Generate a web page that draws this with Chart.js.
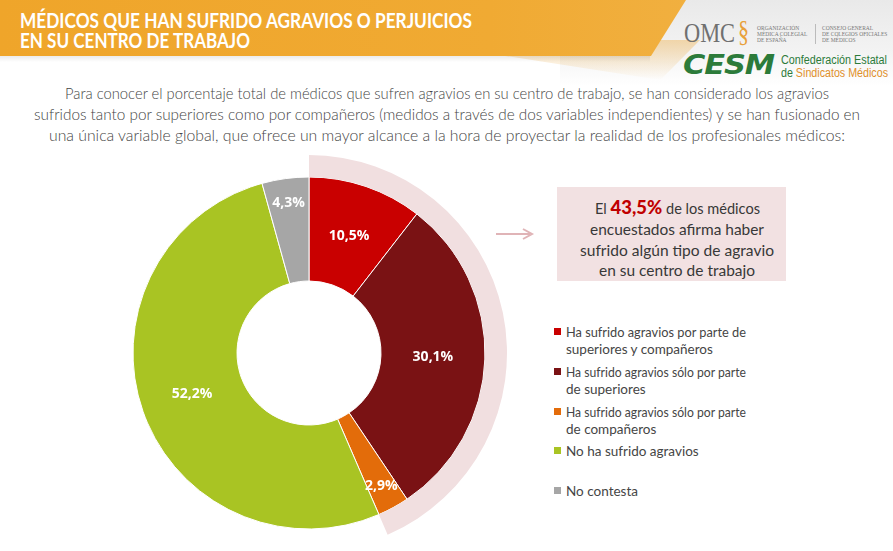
<!DOCTYPE html>
<html lang="es">
<head>
<meta charset="utf-8">
<script src="https://cdn.jsdelivr.net/npm/chart.js@4/dist/chart.umd.min.js"></script>
<style>
  html,body{margin:0;padding:0;background:#fff;}
  body{width:893px;height:551px;position:relative;overflow:hidden;font-family:Lato,"Open Sans",sans-serif;}
  .abs{position:absolute;}
  .t{position:absolute;white-space:nowrap;line-height:1;}
  .t span{display:inline-block;white-space:nowrap;transform-origin:0 50%;}
  #chartWrap{position:absolute;left:111px;top:155px;width:396px;height:396px;}
</style>
</head>
<body>
<script>
// ---------- DATA ----------
const categories = [
  "Ha sufrido agravios por parte de superiores y compañeros",
  "Ha sufrido agravios sólo por parte de superiores",
  "Ha sufrido agravios sólo por parte de compañeros",
  "No ha sufrido agravios",
  "No contesta"
];
const legendLines = [
  ["Ha sufrido agravios por parte de", "superiores y compañeros"],
  ["Ha sufrido agravios sólo por parte", "de superiores"],
  ["Ha sufrido agravios sólo por parte", "de compañeros"],
  ["No ha sufrido agravios"],
  ["No contesta"]
];
const values = [10.5, 30.1, 2.9, 52.2, 4.3];
const highlightedCount = 3; // first three categories = "ha sufrido algún agravio"
const titleLines = ["MÉDICOS QUE HAN SUFRIDO AGRAVIOS O PERJUICIOS", "EN SU CENTRO DE TRABAJO"];
const introLines = [
  "Para conocer el porcentaje total de médicos que sufren agravios en su centro de trabajo, se han considerado los agravios",
  "sufridos tanto por superiores como por compañeros (medidos a través de dos variables independientes) y se han fusionado en",
  "una única variable global, que ofrece un mayor alcance a la hora de proyectar la realidad de los profesionales médicos:"
];
</script>

<!-- header band -->
<div class="abs" style="left:560px;top:0;width:333px;height:86px;background:linear-gradient(to bottom,#e9e9e9 0%,#f3f3f3 60%,#ffffff 100%);"></div>
<div class="abs" style="left:480px;top:40px;width:220px;height:40px;background:linear-gradient(to bottom,rgba(240,190,110,0.55),rgba(255,255,255,0));clip-path:polygon(0 0,100% 0,82% 100%,0 30%);"></div>
<div class="abs" style="left:0;top:0;width:700px;height:56px;background:linear-gradient(to right,#efa52a 0%,#f0aa33 70%,#f1b040 100%);clip-path:polygon(0 0,98% 0,93% 100%,0 100%);"></div>
<div class="abs" style="left:0;top:56px;width:650px;height:6px;background:linear-gradient(to bottom,rgba(0,0,0,0.08),rgba(0,0,0,0));"></div>

<!-- logos -->
<div class="t" style="left:684px;top:20px;font-family:'Liberation Serif','DejaVu Serif',serif;font-size:27px;color:#707070;"><span data-w="51">OMC</span></div>
<div class="t" style="left:738px;top:16px;font-family:'Liberation Serif',serif;font-size:30px;color:#e8a03a;"><span data-w="11">§</span></div>
<div class="t" style="left:757px;top:25px;font-family:'Liberation Serif',serif;font-size:5.5px;line-height:6px;color:#777;">ORGANIZACIÓN<br>MÉDICA COLEGIAL<br>DE ESPAÑA</div>
<div class="abs" style="left:815px;top:24px;width:1px;height:20px;background:#bbb;"></div>
<div class="t" style="left:822px;top:25px;font-family:'Liberation Serif',serif;font-size:5.5px;line-height:6px;color:#777;">CONSEJO GENERAL<br>DE COLEGIOS OFICIALES<br>DE MÉDICOS</div>
<div class="t" id="cesm" style="left:683px;top:51px;font-family:'DejaVu Sans',sans-serif;font-weight:900;font-style:italic;font-size:27px;color:#2c7b3a;letter-spacing:-1px;"><span data-w="91">CESM</span></div>
<div class="t" style="left:781px;top:54px;font-family:'Liberation Sans',Arial,sans-serif;font-size:12px;color:#2c7b3a;"><span data-w="106">Confederación Estatal</span></div>
<div class="t" style="left:781px;top:67px;font-family:'Liberation Sans',Arial,sans-serif;font-size:12px;color:#2c7b3a;"><span data-w="107">de <b style="font-weight:400;color:#e0902a;">Sindicatos Médicos</b></span></div>

<div id="texts"></div>

<!-- callout -->
<div class="abs" style="left:557px;top:187px;width:229px;height:94px;background:#f2e1e2;"></div>
<svg class="abs" style="left:490px;top:222px;" width="50" height="24">
  <line x1="6" y1="12" x2="40" y2="12" stroke="#e0b4b7" stroke-width="2"/>
  <path d="M33 7 L42 12 L33 17" fill="none" stroke="#e0b4b7" stroke-width="2"/>
</svg>
<div id="callout"></div>

<div id="chartWrap"><canvas id="c" width="396" height="396"></canvas></div>
<div id="legend"></div>

<script>
const colors = ['#c90000', '#7a1214', '#e36c0a', '#a9c423', '#a6a6a6'];
const highlightColor = '#f1dfe0';
const fmt = v => v.toFixed(1).replace('.', ',') + '%';
const highlightTotal = Math.round(values.slice(0, highlightedCount).reduce((a, b) => a + b, 0) * 10) / 10;

function addText(parent, txt, opts) {
  const d = document.createElement('div');
  d.className = 't';
  d.style.left = opts.x + 'px';
  d.style.top = opts.y + 'px';
  d.style.font = opts.font;
  d.style.color = opts.color || '#404040';
  const s = document.createElement('span');
  if (opts.html) s.innerHTML = txt; else s.textContent = txt;
  if (opts.w) s.dataset.w = opts.w;
  if (opts.center) s.dataset.center = opts.center;
  d.appendChild(s);
  parent.appendChild(d);
  return d;
}
const texts = document.getElementById('texts');
// title
addText(texts, titleLines[0], {x: 20, y: 7, font: '700 21px Lato', color: '#ffffff', w: 452});
addText(texts, titleLines[1], {x: 20, y: 27, font: '700 21px Lato', color: '#ffffff', w: 230});
// intro paragraph
const introW = [764, 826, 796];
introLines.forEach((l, i) => addText(texts, l, {x: 0, y: 83 + i * 21, font: '300 16px Lato', color: '#454545', w: introW[i], center: 447}));

// callout
const callout = document.getElementById('callout');
const cLines = [
  'El <b style="color:#c00000;font-weight:900;font-size:19px;">' + fmt(highlightTotal) + '</b> de los médicos',
  'encuestados afirma haber',
  'sufrido algún tipo de agravio',
  'en su centro de trabajo'
];
const cW = [165, 174, 194, 156];
const cY = [195, 220, 241, 261];
cLines.forEach((l, i) => addText(callout, l, {x: 0, y: cY[i], font: '400 15px Lato', color: '#383838', w: cW[i], center: 677, html: true}));

// legend
const legend = document.getElementById('legend');
legendLines.forEach((lines, i) => {
  const y0 = 332 + i * 39.75;
  const sq = document.createElement('div');
  sq.className = 'abs';
  sq.style.cssText = `left:554px;top:${Math.round(y0 - 4)}px;width:7px;height:7px;background:${colors[i]};`;
  legend.appendChild(sq);
  lines.forEach((l, j) => {
    addText(legend, l, {x: 566, y: Math.round(y0 - 8 + j * 17), font: '400 13.5px Lato', color: '#454545', w: j === 0 && lines[0].length > 25 ? 180 : null});
  });
});

// fit text widths
document.querySelectorAll('span[data-w]').forEach(s => {
  const w = parseFloat(s.dataset.w);
  const a = s.getBoundingClientRect().width;
  s.style.transform = `scaleX(${w / a})`;
  if (s.dataset.center) {
    s.parentElement.style.left = (parseFloat(s.dataset.center) - w / 2) + 'px';
  }
});

// ---------- CHART ----------
const labelPlugin = {
  id: 'sliceLabels',
  afterDatasetsDraw(chart) {
    const meta = chart.getDatasetMeta(1);
    const ctx = chart.ctx;
    ctx.save();
    ctx.font = '700 14px "Open Sans"';
    ctx.fillStyle = '#ffffff';
    ctx.textAlign = 'center';
    ctx.textBaseline = 'middle';
    meta.data.forEach((arc, i) => {
      const p = arc.getProps(['x', 'y', 'startAngle', 'endAngle', 'innerRadius', 'outerRadius']);
      const mid = (p.startAngle + p.endAngle) / 2;
      const v = values[i];
      const r = v < 5 ? p.innerRadius + (p.outerRadius - p.innerRadius) * 0.76 : (p.innerRadius + p.outerRadius) / 2;
      ctx.fillText(fmt(v), p.x + Math.cos(mid) * r, p.y + Math.sin(mid) * r);
    });
    ctx.restore();
  }
};

new Chart(document.getElementById('c'), {
  type: 'doughnut',
  data: {
    labels: categories,
    datasets: [
      {
        data: [highlightTotal, 100 - highlightTotal],
        backgroundColor: [highlightColor, 'rgba(0,0,0,0)'],
        borderWidth: 0,
        weight: 22
      },
      {
        data: values,
        backgroundColor: colors,
        borderColor: '#ffffff',
        borderWidth: 1,
        weight: 104
      }
    ]
  },
  options: {
    responsive: false,
    maintainAspectRatio: false,
    animation: false,
    devicePixelRatio: 1,
    cutout: 72,
    rotation: 0,
    layout: {padding: 0},
    events: [],
    hoverOffset: 0,
    plugins: {legend: {display: false}, tooltip: {enabled: false}}
  },
  plugins: [labelPlugin]
});
</script>
</body>
</html>
